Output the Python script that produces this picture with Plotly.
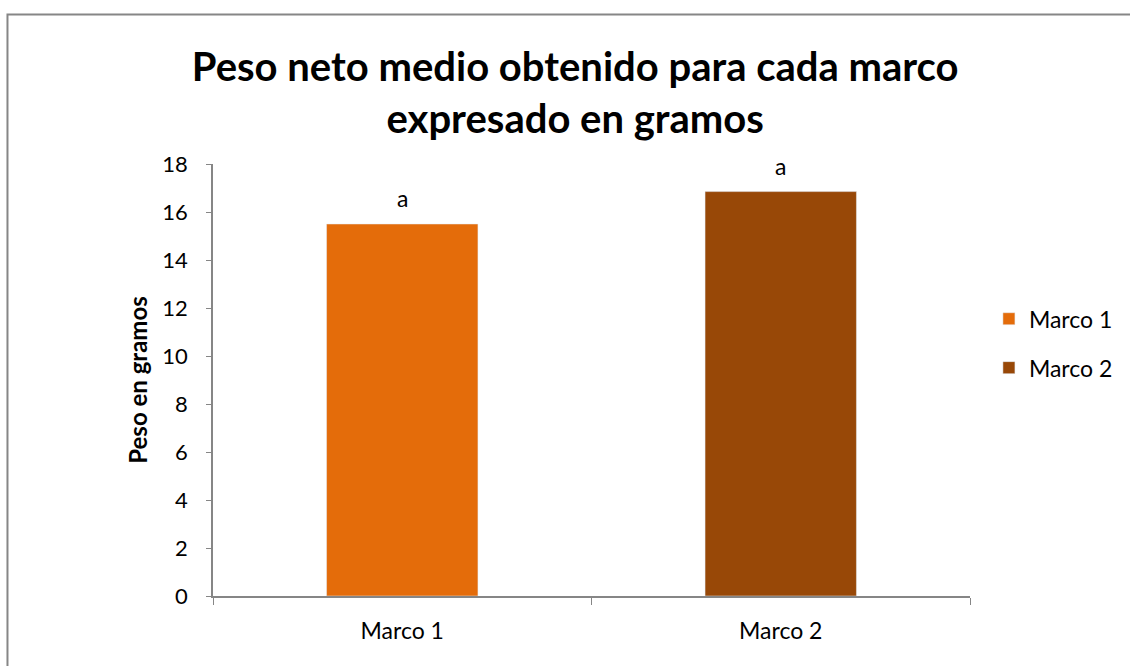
import plotly.graph_objects as go

# Data
categories = ["Marco 1", "Marco 2"]
peso_medio = [15.5, 16.85]
letras = ["a", "a"]
colores = ["#E46C0A", "#984807"]

FONT = "Lato, Calibri, 'Open Sans', sans-serif"
AXIS_GRAY = "#868686"

fig = go.Figure()
for cat, val, col in zip(categories, peso_medio, colores):
    fig.add_trace(go.Bar(
        x=[cat], y=[val], name=cat, marker_color=col, width=0.4,
        legendgroup=cat, hoverinfo="x+y",
    ))

# Significance letters above each bar
for cat, val, let in zip(categories, peso_medio, letras):
    fig.add_annotation(x=cat, y=val, text=let, showarrow=False,
                       yshift=26, font=dict(family=FONT, size=23, color="#000000"))

# Outer chart frame
fig.add_shape(type="rect", xref="paper", yref="paper",
              x0=-0.2715, x1=1.22, y0=-0.18, y1=1.346,
              line=dict(color=AXIS_GRAY, width=2), fillcolor="rgba(0,0,0,0)",
              layer="below")

fig.update_layout(
    width=1130, height=666,
    margin=dict(l=213, r=160, t=164, b=70),
    paper_bgcolor="white", plot_bgcolor="white",
    barmode="overlay",
    font=dict(family=FONT, size=23, color="#000000"),
    title=dict(
        text="<b>Peso neto medio obtenido para cada marco<br>expresado en gramos</b>",
        x=0.509, xanchor="center", y=1 - 81 / 666, yanchor="middle",
        font=dict(family=FONT, size=40, color="#000000"),
    ),
    legend=dict(
        x=1.025, xanchor="left", y=0.585, yanchor="middle",
        font=dict(family=FONT, size=23), tracegroupgap=16,
        itemwidth=30, bgcolor="rgba(0,0,0,0)",
    ),
    xaxis=dict(
        showline=True, linecolor=AXIS_GRAY, linewidth=1.5,
        ticks="outside", tickson="boundaries", ticklen=7, tickcolor=AXIS_GRAY,
        ticklabelstandoff=14,
        tickfont=dict(family=FONT, size=23), showgrid=False,
    ),
    yaxis=dict(
        range=[0, 18], dtick=2, showline=True, linecolor=AXIS_GRAY, linewidth=1.5,
        ticks="outside", ticklen=5, tickcolor=AXIS_GRAY, showgrid=False,
        ticklabelstandoff=14,
        zeroline=False, tickfont=dict(family=FONT, size=22),
        title=dict(text="<b>Peso en gramos</b>", font=dict(family=FONT, size=24),
                   standoff=8),
    ),
)

fig.write_html("out.html")
